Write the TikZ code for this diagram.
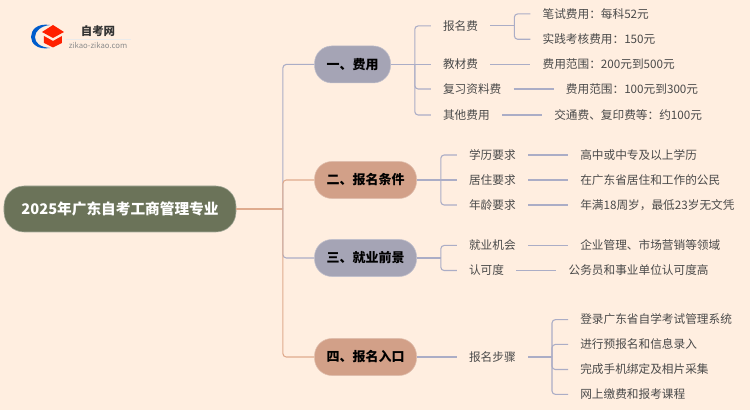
\documentclass[tikz,border=0pt]{standalone}
\usepackage{fontspec}
\setmainfont{Noto Sans CJK SC}
\usepackage{xcolor}
\usetikzlibrary{positioning}
\definecolor{pagebg}{HTML}{FFEEE0}
\definecolor{rootfill}{HTML}{6B7359}
\definecolor{slatefill}{HTML}{A5A4B5}
\definecolor{clayfill}{HTML}{D2A088}
\definecolor{slateline}{HTML}{ABADC6}
\definecolor{clayline}{HTML}{DFAB8E}
\definecolor{inktext}{HTML}{4A4A4A}

\begin{document}
\begin{tikzpicture}[
        node distance=30pt,
        rootbox/.style={rectangle, draw=rootfill!60!white, fill=rootfill, text=white, rounded corners=15pt, minimum height=34.5pt, minimum width=174pt, font=\fontsize{11}{14}\selectfont\bfseries},
        slatebox/.style={rectangle, draw=slatefill!70!white, fill=slatefill, rounded corners=13pt, minimum height=27.75pt, inner xsep=9pt, font=\fontsize{9.75}{12}\selectfont\bfseries},
        claybox/.style={slatebox, draw=clayfill!70!white, fill=clayfill},
        item/.style={inner xsep=9pt, inner ysep=1pt, text=inktext, text height=7.6pt, text depth=1.4pt, font=\fontsize{8.75}{11}\selectfont},
        slatelink/.style={draw=slateline, line width=0.8pt, rounded corners=2.5pt},
        claylink/.style={draw=clayline, line width=0.8pt, rounded corners=2.5pt},
    ]
        % Page
        \fill[pagebg] (-90pt,156.75pt) rectangle (472.5pt,-150.75pt);
        \useasboundingbox (-90pt,156.75pt) rectangle (472.5pt,-150.75pt);

        % Root and branches
        \node[rootbox] (root) at (0,0) {2025年广东自考工商管理专业};
        \node[slatebox, right=58.5pt of root, yshift=108.4pt] (fees) {一、费用};
        \node[claybox, right=58.5pt of root, yshift=21.75pt] (terms) {二、报名条件};
        \node[slatebox, right=58.5pt of root, yshift=-36.75pt] (jobs) {三、就业前景};
        \node[claybox, right=58.5pt of root, yshift=-111pt] (entry) {四、报名入口};
        \coordinate[right=35pt of root] (trunk);

        % Fees
        \node[item, right=of fees, yshift=28.9pt] (signup) {报名费};
        \node[item, right=of fees] (books) {教材费};
        \node[item, right=of fees, yshift=-18.4pt] (review) {复习资料费};
        \node[item, right=of fees, yshift=-37.9pt] (other) {其他费用};
        \node[item, right=of signup, yshift=9pt] (written) {笔试费用：每科52元};
        \node[item, right=of signup, yshift=-10pt] (practice) {实践考核费用：150元};
        \node[item, right=of books] (booksrange) {费用范围：200元到500元};
        \node[item, right=of review] (reviewrange) {费用范围：100元到300元};
        \node[item, right=of other] (otherrange) {交通费、复印费等：约100元};

        % Terms
        \node[item, right=of terms, yshift=18.75pt] (degree) {学历要求};
        \node[item, right=of terms] (residence) {居住要求};
        \node[item, right=of terms, yshift=-18.75pt] (age) {年龄要求};
        \node[item, right=of degree] (degreetext) {高中或中专及以上学历};
        \node[item, right=of residence] (residencetext) {在广东省居住和工作的公民};
        \node[item, right=of age] (agetext) {年满18周岁，最低23岁无文凭};

        % Jobs
        \node[item, right=of jobs, yshift=9.4pt] (chance) {就业机会};
        \node[item, right=of jobs, yshift=-9.4pt] (credit) {认可度};
        \node[item, right=of chance] (chancetext) {企业管理、市场营销等领域};
        \node[item, right=of credit] (credittext) {公务员和事业单位认可度高};

        % Entry
        \node[item, right=of entry] (steps) {报名步骤};
        \node[item, right=of steps, yshift=28pt] (stepa) {登录广东省自学考试管理系统};
        \node[item, right=of steps, yshift=9.4pt] (stepb) {进行预报名和信息录入};
        \node[item, right=of steps, yshift=-9.4pt] (stepc) {完成手机绑定及相片采集};
        \node[item, right=of steps, yshift=-28pt] (stepd) {网上缴费和报考课程};

        % Trunk
        \draw[claylink] (root.east) -- (trunk);
        \draw[slatelink] (trunk) |- (fees.west);
        \draw[claylink] (trunk) |- (terms.west);
        \draw[slatelink] (trunk) |- (jobs.west);
        \draw[claylink] (trunk) |- (entry.west);

        % Fee links
        \coordinate[right=18pt of fees] (feesbus);
        \draw[slatelink] (fees.east) -- (feesbus);
        \draw[slatelink] (feesbus) |- (signup.west);
        \draw[slatelink] (feesbus) -- (books.west);
        \draw[slatelink] (feesbus) |- (review.west);
        \draw[slatelink] (feesbus) |- (other.west);
        \coordinate[right=18pt of signup] (signupbus);
        \draw[slatelink] (signup.east) -- (signupbus);
        \draw[slatelink] (signupbus) |- (written.west);
        \draw[slatelink] (signupbus) |- (practice.west);
        \draw[slatelink] (books) -- (booksrange);
        \draw[slatelink] (review) -- (reviewrange);
        \draw[slatelink] (other) -- (otherrange);

        % Term links
        \coordinate[right=18pt of terms] (termsbus);
        \draw[slatelink] (terms.east) -- (termsbus);
        \draw[slatelink] (termsbus) |- (degree.west);
        \draw[slatelink] (termsbus) -- (residence.west);
        \draw[slatelink] (termsbus) |- (age.west);
        \draw[slatelink] (degree) -- (degreetext);
        \draw[slatelink] (residence) -- (residencetext);
        \draw[slatelink] (age) -- (agetext);

        % Job links
        \coordinate[right=18pt of jobs] (jobsbus);
        \draw[slatelink] (jobs.east) -- (jobsbus);
        \draw[slatelink] (jobsbus) |- (chance.west);
        \draw[slatelink] (jobsbus) |- (credit.west);
        \draw[slatelink] (chance) -- (chancetext);
        \draw[slatelink] (credit) -- (credittext);

        % Step links
        \draw[slatelink] (entry) -- (steps);
        \coordinate[right=18pt of steps] (stepsbus);
        \draw[slatelink] (steps.east) -- (stepsbus);
        \draw[slatelink] (stepsbus) |- (stepa.west);
        \draw[slatelink] (stepsbus) |- (stepb.west);
        \draw[slatelink] (stepsbus) |- (stepc.west);
        \draw[slatelink] (stepsbus) |- (stepd.west);

        % Logo
        \begin{scope}[shift={(-90pt,156.75pt)}, x=0.75pt, y=-0.75pt]
            \fill[blue!55!cyan!80!black] (50,25) .. controls (37,23) and (31,30) .. (31,37) .. controls (31,44) and (38,50) .. (50,48) .. controls (40,47) and (35,43) .. (35,37) .. controls (35,31) and (41,26) .. (50,25) -- cycle;
            \fill[red!75!orange] (53,25) -- (64,32) -- (53,38) -- (42,32) -- cycle;
            \fill[red!75!orange] (44,36) -- (53,41) -- (62,36) -- (62,43) -- (53,47.5) -- (44,43) -- cycle;
            \draw[black!8, line width=0.4pt] (66,39) -- (131,39);
            \node[font=\fontsize{8.6}{10}\selectfont\bfseries, text=black!80, inner sep=0pt] (brand) at (98,31) {自考网};
            \node[font=\fontsize{5.8}{7}\selectfont, text=black!45, inner sep=0pt] (brandurl) at (98,45) {zikao-zikao.com};
        \end{scope}
    \end{tikzpicture}
\end{document}
